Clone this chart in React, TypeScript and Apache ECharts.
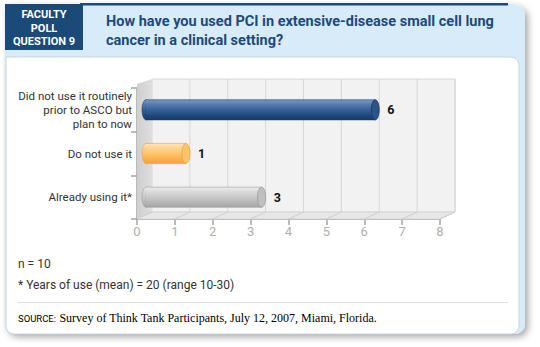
import React, { useEffect, useRef } from "react";
import * as echarts from "echarts";

const categories = [
  "Did not use it routinely\nprior to ASCO but\nplan to now",
  "Do not use it",
  "Already using it*",
];
const values = [6, 1, 3];
const xMin = 0;
const xMax = 8;
const xStep = 1;
const titleLines = [
  "How have you used PCI in extensive-disease small cell lung",
  "cancer in a clinical setting?",
];
const badgeLines = ["FACULTY", "POLL", "QUESTION 9"];
const footnotes = ["n = 10", "* Years of use (mean) = 20 (range 10-30)"];
const sourceLabel = "SOURCE:";
const sourceText = "Survey of Think Tank Participants, July 12, 2007, Miami, Florida.";

const barStyles = [
  { stops: ["#7f9cc4", "#5a7fb0", "#34619a", "#1f4679", "#173a68"], cap: "#2b5388", edge: "#1a3a66" },
  { stops: ["#ffe6b8", "#ffd694", "#ffc46c", "#f9b04c", "#f3a238"], cap: "#ffc468", edge: "#f0a040" },
  { stops: ["#ececec", "#dcdcdc", "#c8c8c8", "#b4b4b4", "#a6a6a6"], cap: "#c0c0c0", edge: "#9a9a9a" },
];

const DX = 15;
const DY = -7;

export default function App() {
  const ref = useRef<HTMLDivElement>(null);
  useEffect(() => {
    if (!ref.current) return;
    const chart = echarts.init(ref.current, null, { renderer: "svg" });
    const font = "Roboto, 'Liberation Sans', sans-serif";

    const backdrop = (params: any, api: any) => {
      const cs = params.coordSys;
      const left = cs.x;
      const right = cs.x + cs.width;
      const bottom = cs.y + cs.height;
      const top = cs.y;
      const children: any[] = [];
      children.push({
        type: "rect",
        shape: { x: left + DX, y: top - 9, width: cs.width, height: bottom + DY - (top - 9) },
        style: { fill: "#f2f2f2", stroke: "#d8d8d8", lineWidth: 1 },
      });
      children.push({
        type: "polygon",
        shape: {
          points: [
            [left, top - 4],
            [left + DX, top - 9],
            [left + DX, bottom + DY],
            [left, bottom],
          ],
        },
        style: {
          fill: new echarts.graphic.LinearGradient(0, 0, 1, 0, [
            { offset: 0, color: "#cfcfcf" },
            { offset: 1, color: "#dedede" },
          ]),
        },
      });
      children.push({
        type: "polygon",
        shape: {
          points: [
            [left, bottom],
            [right, bottom],
            [right + DX, bottom + DY],
            [left + DX, bottom + DY],
          ],
        },
        style: { fill: "#e7e7e7", stroke: "#d6d6d6", lineWidth: 1 },
      });
      for (let t = xMin; t <= xMax; t += xStep) {
        const x = api.coord([t, 0])[0];
        if (t > xMin) {
          children.push({
            type: "line",
            shape: { x1: x + DX, y1: top - 9, x2: x + DX, y2: bottom + DY },
            style: { stroke: "#d6d6d6", lineWidth: 1 },
          });
        }
        children.push({
          type: "line",
          shape: { x1: x, y1: bottom, x2: x + DX, y2: bottom + DY },
          style: { stroke: "#cdcdcd", lineWidth: 1 },
        });
      }
      return { type: "group", children };
    };

    const cylinder = (params: any, api: any) => {
      const v = api.value(0);
      const idx = api.value(1);
      const s = api.coord([0, idx]);
      const e = api.coord([v, idx]);
      const h = api.size([0, 1])[1] * 0.46;
      const st = barStyles[params.dataIndex];
      const x0 = s[0] + 5;
      const x1 = e[0] + DX;
      const cy = s[1];
      const rx = 4;
      const grad = new echarts.graphic.LinearGradient(0, 0, 0, 1, [
        { offset: 0, color: st.stops[0] },
        { offset: 0.2, color: st.stops[1] },
        { offset: 0.5, color: st.stops[2] },
        { offset: 0.8, color: st.stops[3] },
        { offset: 1, color: st.stops[4] },
      ]);
      return {
        type: "group",
        children: [
          {
            type: "ellipse",
            shape: { cx: x0 + rx, cy, rx, ry: h / 2 },
            style: { fill: grad, stroke: st.edge, lineWidth: 0.6 },
          },
          {
            type: "rect",
            shape: { x: x0 + rx, y: cy - h / 2, width: x1 - x0 - 2 * rx, height: h },
            style: { fill: grad, stroke: st.edge, lineWidth: 0.6 },
          },
          {
            type: "rect",
            shape: { x: x0 + rx - 0.5, y: cy - h / 2 + 0.5, width: 2, height: h - 1 },
            style: { fill: grad },
          },
          {
            type: "ellipse",
            shape: { cx: x1 - rx, cy, rx, ry: h / 2 },
            style: { fill: st.cap, stroke: st.edge, lineWidth: 0.8 },
          },
          {
            type: "text",
            style: {
              text: String(v),
              x: x1 + 8,
              y: cy,
              textVerticalAlign: "middle",
              textAlign: "left",
              fill: "#111",
              font: "bold 12.5px " + font,
            },
          },
        ],
      };
    };

    chart.setOption({
      animation: false,
      grid: { left: 137, top: 88, width: 303, height: 131 },
      xAxis: {
        type: "value",
        min: xMin,
        max: xMax,
        interval: xStep,
        axisLine: { show: true, lineStyle: { color: "#a5a5a5", width: 2 } },
        axisTick: { show: true, length: 6, lineStyle: { color: "#a5a5a5", width: 1.5 } },
        axisLabel: { color: "#b0b0b0", fontSize: 13, fontFamily: font, margin: 6 },
        splitLine: { show: false },
      },
      yAxis: {
        type: "category",
        data: categories,
        inverse: true,
        axisLine: { show: true, lineStyle: { color: "#a5a5a5", width: 1.5 } },
        axisTick: { show: true, length: 6, lineStyle: { color: "#a5a5a5", width: 1.5 } },
        axisLabel: { color: "#333", fontSize: 11.5, fontFamily: font, margin: 5, lineHeight: 14, align: "right" },
      },
      graphic: [
        {
          type: "rect",
          z: -10,
          shape: { x: 5, y: 4, width: 520, height: 330, r: [0, 12, 10, 10] },
          style: { fill: "#d8ebf8", shadowBlur: 7, shadowColor: "rgba(0,0,0,0.35)", shadowOffsetX: 3, shadowOffsetY: 3 },
        },
        {
          type: "rect",
          z: -9,
          shape: { x: 80, y: 3, width: 428, height: 2.5 },
          style: { fill: "#1d4a78" },
        },
        {
          type: "rect",
          z: -9,
          shape: { x: 6, y: 57, width: 513, height: 277, r: [0, 8, 8, 8] },
          style: { fill: "#ffffff", stroke: "#c5d6e3", lineWidth: 1 },
        },
        {
          type: "rect",
          z: -8,
          shape: { x: 5, y: 4, width: 78, height: 46 },
          style: { fill: "#1c4a78" },
        },
        {
          type: "text",
          z: -7,
          style: {
            text: badgeLines.join("\n"),
            x: 44,
            y: 8,
            textAlign: "center",
            fill: "#ffffff",
            font: "bold 11px " + font,
            lineHeight: 13.5,
          },
        },
        {
          type: "text",
          z: -7,
          style: {
            text: titleLines.join("\n"),
            x: 106,
            y: 12,
            fill: "#1d4a7a",
            font: "bold 14.5px " + font,
            lineHeight: 19,
          },
        },
        {
          type: "text",
          z: -7,
          style: { text: footnotes[0], x: 18, y: 258, fill: "#333", font: "12px " + font },
        },
        {
          type: "text",
          z: -7,
          style: { text: footnotes[1], x: 18, y: 279, fill: "#333", font: "12px " + font },
        },
        {
          type: "line",
          z: -7,
          shape: { x1: 18, y1: 302.5, x2: 508, y2: 302.5 },
          style: { stroke: "#dddddd", lineWidth: 1 },
        },
        {
          type: "text",
          z: -7,
          style: {
            text: "{a|" + sourceLabel + "} {b|" + sourceText + "}",
            x: 18,
            y: 312,
            rich: {
              a: { fontFamily: font, fontSize: 9.5, color: "#777" },
              b: { fontFamily: "'Liberation Serif', 'DejaVu Serif', serif", fontSize: 12, color: "#444" },
            },
          },
        },
      ],
      series: [
        {
          type: "custom",
          z: 1,
          silent: true,
          data: [[0, 0]],
          encode: { x: 0, y: 1 },
          renderItem: backdrop,
        },
        {
          type: "custom",
          z: 3,
          data: values.map((v, i) => [v, i]),
          encode: { x: 0, y: 1 },
          renderItem: cylinder,
        },
      ],
    });
    return () => chart.dispose();
  }, []);
  return (
    <div
      ref={ref}
      style={{ position: "absolute", left: 0, top: 0, width: 540, height: 347 }}
    />
  );
}
